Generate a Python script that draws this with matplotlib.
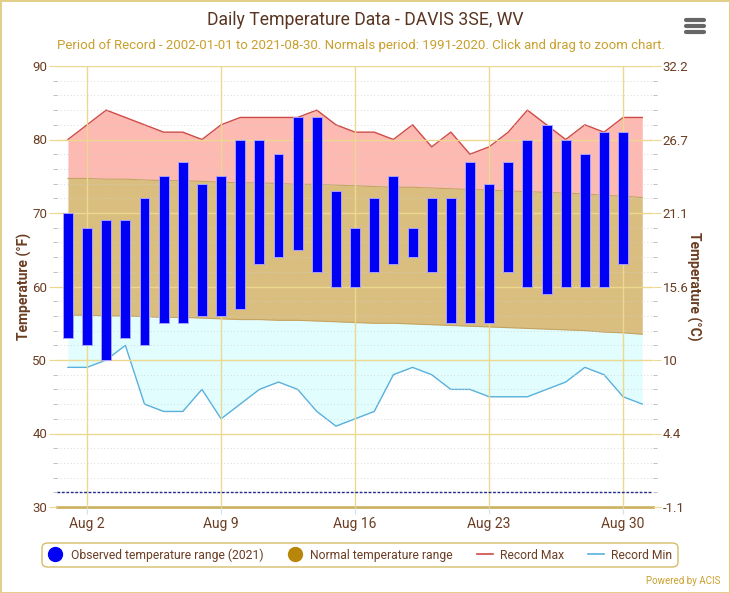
import matplotlib
matplotlib.use('Agg')
import matplotlib.pyplot as plt
from matplotlib.lines import Line2D
from matplotlib.patches import FancyBboxPatch
import numpy as np

plt.rcParams['font.family'] = ['Roboto', 'DejaVu Sans']

# August 2021, DAVIS 3SE, WV
days = list(range(1, 32))
obs_days = list(range(1, 31))
obs_high = [70, 68, 69, 69, 72, 75, 77, 74, 75, 80, 80, 78, 83, 83, 73,
            68, 72, 75, 68, 72, 72, 77, 74, 77, 80, 82, 80, 78, 81, 81]
obs_low = [53, 52, 50, 53, 52, 55, 55, 56, 56, 57, 63, 64, 65, 62, 60,
           60, 62, 63, 64, 62, 55, 55, 55, 62, 60, 59, 60, 60, 60, 63]
normal_high = [74.7, 74.7, 74.6, 74.6, 74.5, 74.4, 74.4, 74.3, 74.2, 74.1,
               74.1, 74.0, 73.9, 73.9, 73.8, 73.7, 73.6, 73.5, 73.5, 73.4,
               73.3, 73.2, 73.1, 73.0, 72.9, 72.8, 72.7, 72.6, 72.4, 72.3, 72.1]
normal_low = [56.1, 56.1, 56.0, 56.0, 55.9, 55.8, 55.8, 55.7, 55.6, 55.5,
              55.5, 55.4, 55.4, 55.3, 55.2, 55.1, 55.0, 55.0, 54.9, 54.8,
              54.7, 54.6, 54.5, 54.4, 54.3, 54.2, 54.1, 54.0, 53.8, 53.7, 53.5]
record_max = [80, 82, 84, 83, 82, 81, 81, 80, 82, 83, 83, 83, 83, 84, 82, 81,
              81, 80, 82, 79, 81, 78, 79, 81, 84, 82, 80, 82, 81, 83, 83]
record_min = [49, 49, 50, 52, 44, 43, 43, 46, 42, 44, 46, 47, 46, 43, 41, 42,
              43, 48, 49, 48, 46, 46, 45, 45, 45, 46, 47, 49, 48, 45, 44]
freezing = 32
tick_days = [2, 9, 16, 23, 30]
tick_labels = ['Aug 2', 'Aug 9', 'Aug 16', 'Aug 23', 'Aug 30']

brown = '#6b3d23'
grid_yellow = '#ecd98f'

fig = plt.figure(figsize=(7.3, 5.93), dpi=100)
fig.patch.set_edgecolor('#e3cf8c')
fig.patch.set_linewidth(2)

ax = fig.add_axes([57 / 730, 86 / 593, 596 / 730, 441 / 593])

ax.fill_between(days, normal_high, record_max, color='#fcbab3', lw=0, zorder=1)
ax.plot(days, record_max, color='#cf4a45', lw=1, zorder=2)
ax.fill_between(days, normal_low, normal_high, color='#d9be80', lw=0, zorder=1)
ax.plot(days, normal_high, color='#c4a461', lw=0.8, zorder=2)
ax.plot(days, normal_low, color='#c4a461', lw=0.8, zorder=2)
ax.fill_between(days, record_min, normal_low, color='#e2fdfd', lw=0, zorder=1)
ax.plot(days, record_min, color='#5ab0dc', lw=1, zorder=2)

ax.bar(obs_days, np.array(obs_high) - np.array(obs_low), bottom=obs_low,
       width=0.52, color='#0000f5', edgecolor='#a9a0ff', lw=0.7, zorder=3)

ax.axhline(freezing, color='#1f2a8a', lw=1, ls=(0, (2, 1.2)), zorder=3)

ax.set_xlim(0.43, 31.56)
ax.set_ylim(30, 90)
ax.set_xticks(tick_days)
ax.set_xticklabels(tick_labels)
ax.set_yticks(range(30, 91, 10))
ax.set_yticks(range(30, 91, 2), minor=True)
ax.grid(True, which='major', color=grid_yellow, lw=1, zorder=0)
ax.grid(True, which='minor', axis='y', color='#cfcfcf', lw=0.6, ls=(0, (1, 3)), zorder=0)
ax.set_axisbelow(False)
for g in ax.get_xgridlines() + ax.get_ygridlines():
    g.set_zorder(1.5)

for side in ['left', 'right', 'top']:
    ax.spines[side].set_visible(False)
ax.spines['bottom'].set_color('#cdb263')
ax.spines['bottom'].set_linewidth(2)
ax.tick_params(axis='y', which='major', length=6, color=grid_yellow, labelsize=9.5,
               labelcolor=brown, pad=1)
ax.tick_params(axis='y', which='minor', length=3, color='#b5b5b5')
ax.tick_params(axis='x', length=5, color='#cfe0ee', labelsize=10, labelcolor=brown, pad=2)
ax.set_ylabel('Temperature (°F)', fontsize=10, fontweight='bold', color=brown, labelpad=0)

axr = ax.twinx()
axr.set_ylim((30 - 32) * 5 / 9, (90 - 32) * 5 / 9)
c_ticks = [(f - 32) * 5 / 9 for f in range(30, 91, 10)]
axr.set_yticks(c_ticks)
axr.set_yticklabels(['%g' % round(c, 1) for c in c_ticks])
axr.set_yticks([(f - 32) * 5 / 9 for f in range(30, 91, 2)], minor=True)
for side in ['left', 'right', 'top', 'bottom']:
    axr.spines[side].set_visible(False)
axr.tick_params(axis='y', which='major', length=6, color=grid_yellow, labelsize=9.5,
                labelcolor=brown, pad=1)
axr.tick_params(axis='y', which='minor', length=3, color='#b5b5b5')
axr.set_ylabel('Temperature (°C)', fontsize=10, fontweight='bold', color=brown,
               rotation=270, labelpad=9)

fig.text(0.5, 1 - 20 / 593, 'Daily Temperature Data - DAVIS 3SE, WV', ha='center',
         va='center', fontsize=12.7, color='#5a3522')
fig.text(0.494, 1 - 45 / 593,
         'Period of Record - 2002-01-01 to 2021-08-30. Normals period: 1991-2020. '
         'Click and drag to zoom chart.', ha='center', va='center', fontsize=9.5,
         color='#c9a02e')

# menu icon
for yy in [20, 26, 32]:
    fig.add_artist(Line2D([686 / 730, 704 / 730], [1 - yy / 593] * 2, color='#666666',
                          lw=3, solid_capstyle='round'))

# legend box
fig.add_artist(FancyBboxPatch((42 / 730, 1 - 567 / 593), 636 / 730, 24 / 593,
                              boxstyle='round,pad=0,rounding_size=0.008',
                              transform=fig.transFigure, facecolor='white',
                              edgecolor='#d6bd69', lw=1))
handles = [
    Line2D([], [], marker='o', ls='none', color='#0000f5', markersize=10),
    Line2D([], [], marker='o', ls='none', color='#b8860b', markersize=10),
    Line2D([], [], color='#cf4a45', lw=1.2),
    Line2D([], [], color='#5ab0dc', lw=1.2),
]
labels = ['Observed temperature range (2021)', 'Normal temperature range',
          'Record Max', 'Record Min']
leg = fig.legend(handles, labels, loc='center', bbox_to_anchor=(360 / 730, 1 - 555 / 593),
                 ncol=4, frameon=False, fontsize=8.7, handlelength=1.3,
                 columnspacing=2.0, handletextpad=0.6)
for t in leg.get_texts():
    t.set_color(brown)

fig.text(720 / 730, 1 - 581 / 593, 'Powered by ACIS', ha='right', va='center',
         fontsize=7, color='#c9a02e')

plt.savefig('out.png', dpi=100)
